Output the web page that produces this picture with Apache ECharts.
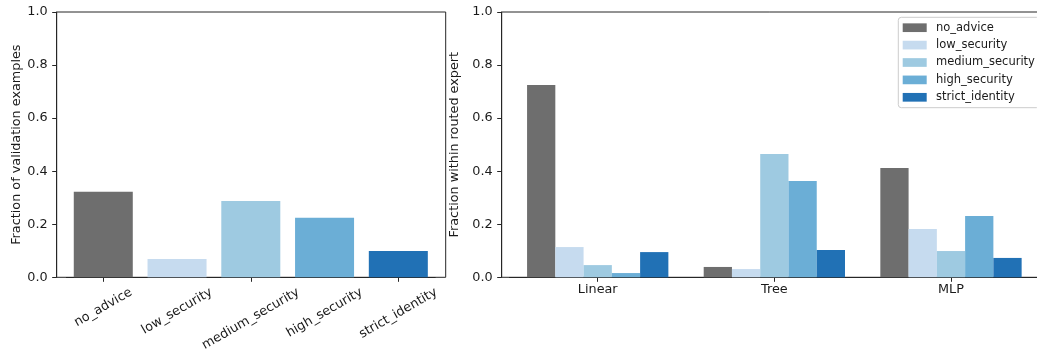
<!DOCTYPE html>
<html>
<head>
<meta charset="utf-8">
<script src="https://cdn.jsdelivr.net/npm/echarts@6/dist/echarts.min.js"></script>
<style>
  html, body { margin: 0; padding: 0; background: #ffffff; }
  #chart { width: 1037px; height: 352px; }
</style>
</head>
<body>
<div id="chart"></div>
<script>
// Advice levels (left panel categories and legend entries)
const adviceLevels = ['no_advice', 'low_security', 'medium_security', 'high_security', 'strict_identity'];
// Overall fraction of validation examples per advice level
const overallFractions = [0.322, 0.069, 0.288, 0.224, 0.099];

// Routed experts (right panel categories)
const expertNames = ['Linear', 'Tree', 'MLP'];
// Fraction of each advice level within the examples routed to each expert
const routedNoAdvice       = [0.725, 0.039, 0.412];
const routedLowSecurity    = [0.114, 0.031, 0.182];
const routedMediumSecurity = [0.046, 0.465, 0.099];
const routedHighSecurity   = [0.016, 0.363, 0.231];
const routedStrictIdentity = [0.095, 0.103, 0.073];

const yTickLabels = ['0.0', '0.2', '0.4', '0.6', '0.8', '1.0'];

const levelColors = ['#6e6e6e', '#c6dbef', '#9ecae1', '#6baed6', '#2171b5'];
const routedSeries = [routedNoAdvice, routedLowSecurity, routedMediumSecurity, routedHighSecurity, routedStrictIdentity];

const FONT = '"DejaVu Sans", sans-serif';
const FS = 12.8;
const INK = '#1a1a1a';
const SPINE = '#262626';

const chart = echarts.init(document.getElementById('chart'), null, { renderer: 'canvas' });

const gridTop = 12, gridBottom = 352 - 277.3;

function frameYAxis(gridIndex, title, gap) {
  return {
    gridIndex, type: 'value', min: 0, max: 1, interval: 0.2,
    axisLine: { show: true, lineStyle: { color: SPINE, width: 1 } },
    axisTick: { show: true, length: 4.5, lineStyle: { color: SPINE, width: 1 } },
    splitLine: { show: false },
    axisLabel: {
      margin: 9, color: INK, fontFamily: FONT, fontSize: FS,
      formatter: v => yTickLabels[Math.round(v / 0.2)]
    },
    name: title, nameLocation: 'middle', nameGap: gap,
    nameTextStyle: { color: INK, fontFamily: FONT, fontSize: FS }
  };
}
function hiddenY(gridIndex) {
  return { gridIndex, type: 'value', min: 0, max: 1, show: false };
}
function panelGrid(left, rightEdge, framed) {
  const g = {
    left: left, right: 1037 - rightEdge, top: gridTop, bottom: gridBottom,
    outerBoundsMode: 'none', containLabel: false
  };
  if (framed) {
    Object.assign(g, { show: true, borderColor: SPINE, borderWidth: 1, backgroundColor: 'transparent' });
  }
  return g;
}

const option = {
  animation: false,
  backgroundColor: '#ffffff',
  grid: [
    // left panel frame and plotting area
    panelGrid(56.7, 445.7, true),
    panelGrid(66.4, 435.2, false),
    // right panel frame (its right edge falls past the canvas) and plotting area
    panelGrid(501.7, 1046.5, true),
    panelGrid(509.4, 1039.3, false)
  ],
  xAxis: [
    { gridIndex: 0, type: 'value', min: 0, max: 1, show: false },
    {
      gridIndex: 1, type: 'category', data: adviceLevels,
      axisLine: { show: true, lineStyle: { color: SPINE, width: 1 } },
      axisTick: { show: true, alignWithLabel: true, length: 4.5, lineStyle: { color: SPINE } },
      axisLabel: { show: false }
    },
    { gridIndex: 2, type: 'value', min: 0, max: 1, show: false },
    {
      gridIndex: 3, type: 'category', data: expertNames,
      axisLine: { show: true, lineStyle: { color: SPINE, width: 1 } },
      axisTick: { show: true, alignWithLabel: true, length: 4.5, lineStyle: { color: SPINE } },
      axisLabel: { margin: 6, color: INK, fontFamily: FONT, fontSize: FS }
    }
  ],
  yAxis: [
    frameYAxis(0, 'Fraction of validation examples', 33),
    hiddenY(1),
    frameYAxis(2, 'Fraction within routed expert', 34.5),
    hiddenY(3)
  ],
  legend: {
    orient: 'vertical',
    left: 898.3, top: 17.3,
    padding: [4.4, 4.4, 4.4, 4.4],
    itemGap: 5.4,
    itemWidth: 24, itemHeight: 8.7,
    icon: 'rect',
    data: adviceLevels,
    backgroundColor: 'rgba(255,255,255,0.8)',
    borderColor: '#cccccc', borderWidth: 1, borderRadius: 3,
    textStyle: { color: INK, fontFamily: FONT, fontSize: 11.5, lineHeight: 12, padding: [0, 0, 0, 4.3] }
  },
  series: [
    {
      type: 'bar', xAxisIndex: 1, yAxisIndex: 1,
      barWidth: '80%',
      data: overallFractions.map((v, i) => ({ value: v, itemStyle: { color: levelColors[i] } }))
    }
  ].concat(routedSeries.map((vals, i) => ({
    type: 'bar', name: adviceLevels[i], xAxisIndex: 3, yAxisIndex: 3,
    barWidth: '16%', barGap: '0%',
    itemStyle: { color: levelColors[i] },
    data: vals
  })))
};

chart.setOption(option);

// Rotated category labels for the left panel, centred under each tick
const measure = document.createElement('canvas').getContext('2d');
measure.font = FS + 'px "DejaVu Sans"';
const axisY = chart.convertToPixel({ yAxisIndex: 1 }, 0);
const labels = adviceLevels.map(name => {
  const x = chart.convertToPixel({ xAxisIndex: 1 }, name);
  const L = measure.measureText(name).width;
  return {
    type: 'text',
    x: x, y: axisY + 14.1 + L / 4,
    rotation: Math.PI / 6,
    style: {
      text: name, fill: INK,
      font: FS + 'px ' + FONT,
      align: 'center', verticalAlign: 'middle'
    }
  };
});
chart.setOption({ graphic: labels });
</script>
</body>
</html>
